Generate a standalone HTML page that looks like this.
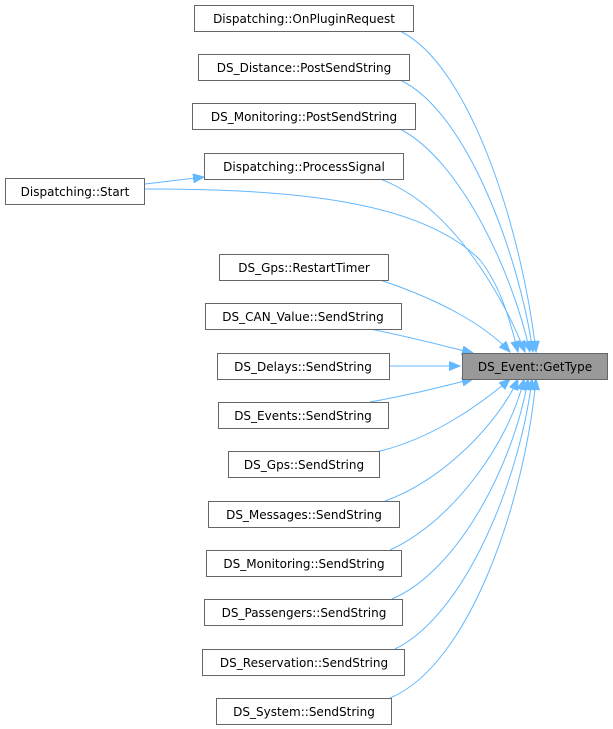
<!DOCTYPE html>
<html><head><meta charset="utf-8"><style>
html,body{margin:0;padding:0;background:#fff;}
svg{display:block;}
text{font-family:"DejaVu Sans","Liberation Sans",sans-serif;font-size:12px;fill:#000;}
.n{fill:#fff;stroke:#666;stroke-width:1;}
.e{fill:none;stroke:#63b8ff;stroke-width:1;}
</style></head><body>
<svg width="613" height="729" viewBox="0 0 613 729" xmlns="http://www.w3.org/2000/svg">
<defs>
<marker id="a" markerUnits="userSpaceOnUse" markerWidth="12" markerHeight="10" refX="11" refY="4.5" orient="auto">
<path d="M0,0 L11,4.5 L0,9 z" fill="#63b8ff" stroke="#63b8ff"/>
</marker>
</defs>
<path class="e" marker-end="url(#a)" d="M400,31 C470,65 522,230 536,352"/>
<path class="e" marker-end="url(#a)" d="M400,80 C465,110 518,250 533,352"/>
<path class="e" marker-end="url(#a)" d="M400,129 C460,160 512,270 530,352"/>
<path class="e" marker-end="url(#a)" d="M380,179 C450,205 500,290 525,352"/>
<path class="e" marker-end="url(#a)" d="M145,189 C290,189 420,200 480,260 C500,285 510,320 518,352"/>
<path class="e" marker-end="url(#a)" d="M380,280 C440,300 485,325 510,352"/>
<path class="e" marker-end="url(#a)" d="M370,329 C410,337 440,345 473,353"/>
<path class="e" marker-end="url(#a)" d="M389,366 L460,366"/>
<path class="e" marker-end="url(#a)" d="M370,402 C410,395 440,387 473,379"/>
<path class="e" marker-end="url(#a)" d="M376,452 C430,440 480,405 510,379"/>
<path class="e" marker-end="url(#a)" d="M385,501 C445,480 500,420 518,379"/>
<path class="e" marker-end="url(#a)" d="M390,550 C455,520 510,440 524,379"/>
<path class="e" marker-end="url(#a)" d="M392,599 C460,570 515,460 528,379"/>
<path class="e" marker-end="url(#a)" d="M395,649 C465,615 520,480 532,379"/>
<path class="e" marker-end="url(#a)" d="M390,698 C470,665 525,500 536,379"/>
<path class="e" marker-end="url(#a)" d="M145,184 L204,177"/>
<rect class="n" x="194.5" y="5.5" width="219" height="26"/><text x="304" y="23" text-anchor="middle">Dispatching::OnPluginRequest</text>
<rect class="n" x="198.5" y="54.5" width="211" height="26"/><text x="304" y="72" text-anchor="middle">DS_Distance::PostSendString</text>
<rect class="n" x="192.5" y="103.5" width="223" height="26"/><text x="304" y="121" text-anchor="middle">DS_Monitoring::PostSendString</text>
<rect class="n" x="204.5" y="153.5" width="199" height="26"/><text x="304" y="171" text-anchor="middle">Dispatching::ProcessSignal</text>
<rect class="n" x="5.5" y="178.5" width="139" height="26"/><text x="75" y="196" text-anchor="middle">Dispatching::Start</text>
<rect class="n" x="219.5" y="254.5" width="169" height="26"/><text x="304" y="272" text-anchor="middle">DS_Gps::RestartTimer</text>
<rect class="n" x="205.5" y="303.5" width="196" height="26"/><text x="303" y="321" text-anchor="middle">DS_CAN_Value::SendString</text>
<rect class="n" x="217.5" y="353.5" width="172" height="26"/><text x="303" y="371" text-anchor="middle">DS_Delays::SendString</text>
<rect class="n" x="218.5" y="402.5" width="170" height="26"/><text x="303" y="420" text-anchor="middle">DS_Events::SendString</text>
<rect class="n" x="228.5" y="451.5" width="151" height="26"/><text x="304" y="469" text-anchor="middle">DS_Gps::SendString</text>
<rect class="n" x="208.5" y="501.5" width="191" height="26"/><text x="304" y="519" text-anchor="middle">DS_Messages::SendString</text>
<rect class="n" x="206.5" y="550.5" width="195" height="26"/><text x="304" y="568" text-anchor="middle">DS_Monitoring::SendString</text>
<rect class="n" x="204.5" y="599.5" width="198" height="26"/><text x="304" y="617" text-anchor="middle">DS_Passengers::SendString</text>
<rect class="n" x="202.5" y="649.5" width="202" height="26"/><text x="304" y="667" text-anchor="middle">DS_Reservation::SendString</text>
<rect class="n" x="216.5" y="698.5" width="175" height="26"/><text x="304" y="716" text-anchor="middle">DS_System::SendString</text>
<rect x="462.5" y="353.5" width="145" height="26" fill="#999" stroke="#666"/><text x="535" y="371" text-anchor="middle">DS_Event::GetType</text>
</svg>
</body></html>
